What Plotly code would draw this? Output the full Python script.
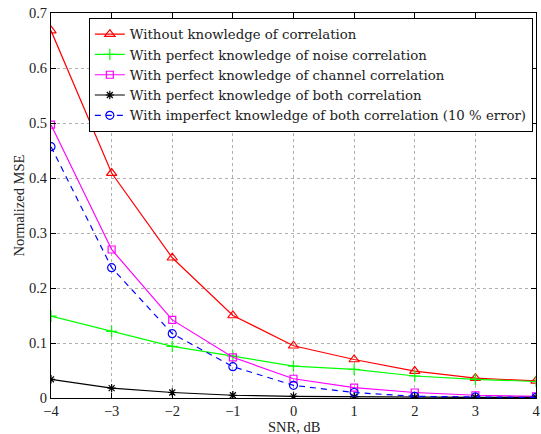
import plotly.graph_objects as go

# SNR grid (dB) and normalized MSE for each estimator
snr_db = [-4, -3, -2, -1, 0, 1, 2, 3, 4]

mse_no_corr = [0.668, 0.409, 0.255, 0.150, 0.095, 0.070, 0.049, 0.036, 0.031]
mse_noise_corr = [0.149, 0.121, 0.094, 0.076, 0.058, 0.052, 0.040, 0.034, 0.030]
mse_channel_corr = [0.497, 0.270, 0.142, 0.074, 0.035, 0.019, 0.010, 0.005, 0.003]
mse_both_corr = [0.034, 0.018, 0.010, 0.005, 0.003, 0.002, 0.001, 0.001, 0.001]
mse_both_imperfect = [0.457, 0.237, 0.117, 0.057, 0.023, 0.010, 0.003, 0.002, 0.001]

series_names = [
    "Without knowledge of correlation",
    "With perfect knowledge of noise correlation",
    "With perfect knowledge of channel correlation",
    "With perfect knowledge of both correlation",
    "With imperfect knowledge of both correlation (10 % error)",
]

x_ticks = [-4, -3, -2, -1, 0, 1, 2, 3, 4]
y_ticks = [0, 0.1, 0.2, 0.3, 0.4, 0.5, 0.6, 0.7]
y_tick_text = ["0", "0.1", "0.2", "0.3", "0.4", "0.5", "0.6", "0.7"]

FONT = "Liberation Serif"
LEGEND_FONT = "DejaVu Serif"

styles = [
    dict(color="#ff0000", symbol="triangle-up-open", size=9, dash="solid"),
    dict(color="#00ff00", symbol="cross-thin-open", size=8, dash="solid"),
    dict(color="#ff00ff", symbol="square-open", size=7, dash="solid"),
    dict(color="#000000", symbol="asterisk-open", size=7, dash="solid"),
    dict(color="#0000ff", symbol="circle-open", size=8, dash="6px,5px"),
]

fig = go.Figure()
for name, ys, st in zip(
    series_names,
    [mse_no_corr, mse_noise_corr, mse_channel_corr, mse_both_corr, mse_both_imperfect],
    styles,
):
    fig.add_trace(
        go.Scatter(
            x=snr_db,
            y=ys,
            mode="lines+markers",
            name=name,
            line=dict(color=st["color"], width=1.2, dash=st["dash"]),
            marker=dict(
                symbol=st["symbol"],
                size=st["size"],
                color=st["color"],
                line=dict(color=st["color"], width=1.2),
            ),
        )
    )

axis_common = dict(
    showline=True,
    linecolor="black",
    linewidth=1,
    mirror="ticks",
    ticks="inside",
    ticklen=5,
    tickcolor="black",
    showgrid=True,
    gridcolor="#b0b0b0",
    griddash="dot",
    gridwidth=1,
    zeroline=False,
    automargin=False,
    tickfont=dict(family=FONT, size=14.5, color="#222222"),
)

fig.update_xaxes(
    range=[-4, 4],
    tickmode="array",
    tickvals=x_ticks,
    ticktext=[str(v).replace("-", "\u2212") for v in x_ticks],
    **axis_common,
)
fig.update_yaxes(
    range=[0, 0.7],
    tickmode="array",
    tickvals=y_ticks,
    ticktext=y_tick_text,
    **axis_common,
)

# axis titles placed as annotations in paper coordinates
fig.add_annotation(
    text="SNR, dB", x=0.5, y=0, xref="paper", yref="paper",
    xanchor="center", yanchor="middle", yshift=-29, showarrow=False,
    font=dict(family=FONT, size=14.5, color="#222222"),
)
fig.add_annotation(
    text="Normalized MSE", x=0, y=0.5, xref="paper", yref="paper",
    xanchor="center", yanchor="middle", xshift=-33, textangle=-90, showarrow=False,
    font=dict(family=FONT, size=14.5, color="#222222"),
)

fig.update_layout(
    width=541,
    height=434,
    margin=dict(l=51, r=5, t=13, b=36),
    paper_bgcolor="white",
    plot_bgcolor="white",
    font=dict(family=FONT, size=14.5, color="#222222"),
    legend=dict(
        x=0.078,
        y=0.987,
        xanchor="left",
        yanchor="top",
        bgcolor="white",
        bordercolor="black",
        borderwidth=1,
        font=dict(family=LEGEND_FONT, size=13.3, color="#222222"),
        tracegroupgap=0,
        itemwidth=30,
    ),
    showlegend=True,
)

fig.write_html("out.html")
